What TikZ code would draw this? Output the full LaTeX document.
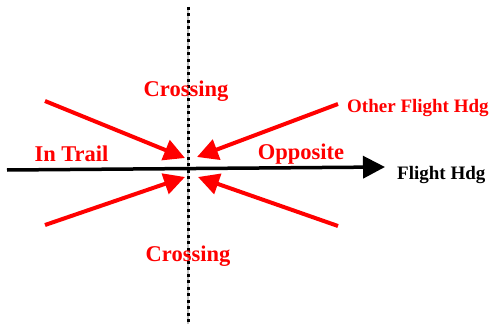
\documentclass[tikz,border=0pt]{standalone}
\usepackage{fontspec}
\setmainfont{Liberation Serif}
\usetikzlibrary{arrows.meta}
\definecolor{myred}{RGB}{255,0,0}
\begin{document}
\begin{tikzpicture}[x=1pt,y=-1pt,
  redarrow/.style={draw=myred,line width=4pt,-{Triangle[length=21pt,width=21pt]}},
  bigred/.style={text=myred,font=\bfseries\fontsize{22.5}{26}\selectfont,inner sep=0pt},
  smallred/.style={text=myred,font=\bfseries\fontsize{19}{22}\selectfont,inner sep=0pt},
  smallblack/.style={text=black,font=\bfseries\fontsize{19}{22}\selectfont,inner sep=0pt}]
\useasboundingbox (0,0) rectangle (492,329);
% vertical dotted axis
\coordinate (vtop) at (188,7);
\coordinate (vbot) at (188,324);
\draw[gray!50,line width=1.2pt] (vtop) -- (vbot);
\draw[black,line width=3pt,dash pattern=on 3pt off 3.5pt] (vtop) -- (vbot);
% flight heading arrow
\coordinate (hstart) at (7,170);
\coordinate (hend) at (385,167);
\draw[line width=3.5pt,-{Triangle[length=22pt,width=22pt]}] (hstart) -- (hend);
% red arrows
\coordinate (ulS) at (45,101);
\coordinate (ulT) at (185,158);
\coordinate (llS) at (45,225);
\coordinate (llT) at (185,177);
\coordinate (urS) at (338,104);
\coordinate (urT) at (197,157);
\coordinate (lrS) at (338,226);
\coordinate (lrT) at (198,177);
\draw[redarrow] (ulS) -- (ulT);
\draw[redarrow] (llS) -- (llT);
\draw[redarrow] (urS) -- (urT);
\draw[redarrow] (lrS) -- (lrT);
% labels
\node[bigred,anchor=base] (crossTop) at (186,96) {Crossing};
\node[bigred,anchor=base] (crossBot) at (188,261) {Crossing};
\node[bigred,anchor=base] (intrail) at (71.5,161) {In Trail};
\node[bigred,anchor=base] (opp) at (301,159) {Opposite};
\node[smallred,anchor=base west] (other) at (347,112) {Other Flight Hdg};
\node[smallblack,anchor=base west] (fhdg) at (397,179) {Flight Hdg};
\end{tikzpicture}
\end{document}
